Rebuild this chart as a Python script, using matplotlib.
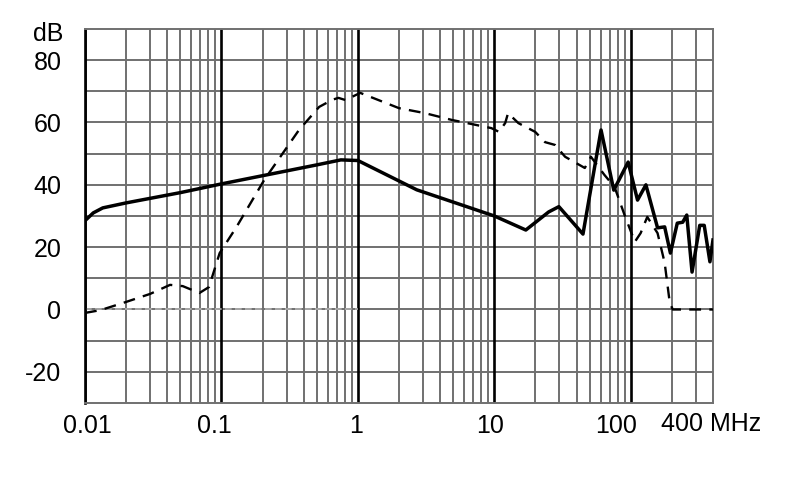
import matplotlib.pyplot as plt
from matplotlib.transforms import ScaledTranslation
import numpy as np

plt.rcParams['font.family'] = ['Liberation Sans', 'DejaVu Sans']
plt.rcParams['axes.unicode_minus'] = False

# solid curve (frequency in MHz, level in dB)
solid_f = [0.01, 0.0115, 0.0135, 0.02, 0.05, 0.1, 0.215, 0.5, 0.75, 1.0, 2.7, 10.0,
           17.0, 25.0, 29.7, 44.6, 60.5, 75.0, 95.6, 112.0, 129.0, 157.0, 177.0,
           195.0, 219.0, 240.0, 257.0, 281.0, 320.0, 345.0, 380.0, 400.0]
solid_db = [28.5, 31.0, 32.6, 34.2, 37.5, 40.3, 43.2, 46.4, 48.0, 47.8, 38.4, 30.0,
            25.5, 31.3, 33.0, 24.2, 57.6, 38.3, 47.3, 35.1, 40.0, 26.2, 26.5,
            18.1, 27.7, 28.0, 30.3, 12.0, 27.0, 27.0, 15.3, 22.3]

# dashed curve
dash_f = [0.01, 0.013, 0.019, 0.03, 0.042, 0.052, 0.069, 0.081, 0.097, 0.129, 0.206,
          0.37, 0.52, 0.65, 0.72, 0.81, 1.04, 2.0, 3.1, 4.9, 9.5, 10.8, 12.0, 12.6,
          15.0, 19.9, 23.5, 27.8, 33.0, 46.0, 51.0, 64.0, 76.0, 90.0, 107.0, 118.0,
          132.0, 157.0, 177.0, 193.0, 203.0, 400.0]
dash_db = [-1.1, -0.2, 2.1, 5.0, 7.9, 7.5, 5.3, 7.2, 18.1, 26.5, 41.6,
           57.6, 65.0, 67.3, 67.9, 67.2, 69.5, 64.6, 63.0, 60.8, 58.2, 57.0, 59.8, 63.0,
           59.8, 57.0, 53.7, 52.8, 49.0, 45.4, 49.0, 43.2, 39.3, 30.3, 21.7, 24.5,
           29.7, 24.5, 15.0, 2.1, 0.0, 0.0]

decades = [0.01, 0.1, 1, 10, 100]
decade_labels = ['0.01', '0.1', '1', '10', '100']
label_shift = [2, -7, -2, -4, -15]  # px, labels sit a bit off their lines

fig = plt.figure(figsize=(7.9, 4.99), dpi=100)
ax = fig.add_axes([0.1076, 0.1924, 0.7949, 0.7495])
ax.set_xscale('log')
ax.set_xlim(0.01, 400)
ax.set_ylim(-30, 90)

# grid
minor = [m * d for d in decades for m in range(2, 10) if m * d < 400]
for x in minor:
    ax.axvline(x, color='#707070', lw=1.4, zorder=1)
for x in decades:
    ax.axvline(x, color='black', lw=1.9, zorder=1.5)
for y in range(-20, 90, 10):
    ax.axhline(y, color='#707070', lw=1.4, zorder=1)
for s in ['top', 'right', 'bottom']:
    ax.spines[s].set_color('#707070')
    ax.spines[s].set_linewidth(1.4)
ax.spines['left'].set_linewidth(1.9)

# faint zero reference
ax.plot([0.01, 1], [0, 0], color='#b0b0b0', lw=1.2, ls=(0, (4, 2)), zorder=2)

ax.plot(solid_f, solid_db, color='black', lw=2.5, zorder=3)
ax.plot(dash_f, dash_db, color='black', lw=1.7, ls=(0, (5, 3.5)), zorder=3)

ax.set_xticks(decades)
ax.set_xticklabels(decade_labels)
ax.set_xticks([], minor=True)
ax.set_yticks(range(-20, 81, 20))
ax.tick_params(length=0, labelsize=18)
ax.tick_params(axis='x', pad=8)
ax.tick_params(axis='y', pad=17)

for lab, dx in zip(ax.get_xticklabels(), label_shift):
    lab.set_transform(lab.get_transform() + ScaledTranslation(dx / 100, 0, fig.dpi_scale_trans))

fig.text(661 / 790, 1 - 424 / 499, '400 MHz', fontsize=18, ha='left', va='center')
fig.text(63 / 790, 1 - 34 / 499, 'dB', fontsize=18, ha='right', va='center')

fig.savefig('out.png', dpi=100)
